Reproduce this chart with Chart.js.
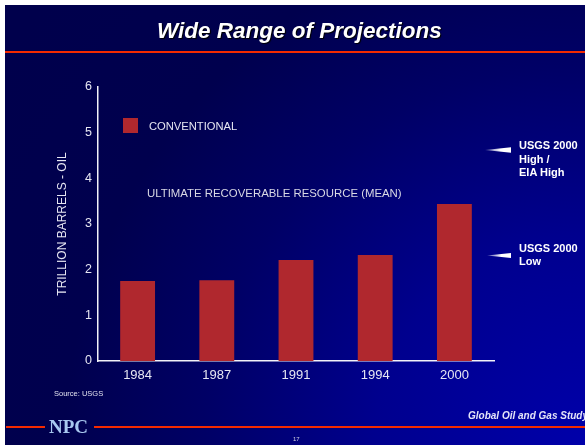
<!DOCTYPE html>
<html>
<head>
<meta charset="utf-8">
<script src="https://cdn.jsdelivr.net/npm/chart.js@4.4.1/dist/chart.umd.min.js"></script>
<style>
html,body{margin:0;padding:0;background:#fff;}
#slide{position:relative;width:585px;height:445px;overflow:hidden;background:#fff;font-family:"Liberation Sans",Arial,sans-serif;}
#bg{position:absolute;left:5px;top:5px;right:0;bottom:0;
  background:radial-gradient(circle at 100% 100%, #0000aa 0px, #00008e 210px, #000066 380px, #00004e 520px, #00004c 700px);}
#chart{position:absolute;left:0;top:0;}
.t{position:absolute;white-space:nowrap;}
#title{left:157px;top:18px;font-size:22.5px;line-height:26px;font-weight:bold;font-style:italic;color:#fff;text-shadow:1px 1px 1px #000;}
.redline{position:absolute;height:2px;background:#f42a00;}
#legSwatch{position:absolute;left:123px;top:118px;width:15px;height:14.5px;background:#b0282e;}
#legText{left:149px;top:120px;font-size:11.2px;line-height:13px;color:#e6e6f2;}
#subtitle{left:147px;top:187.3px;font-size:11.4px;line-height:13px;color:#d8d8e4;}
.note{left:519px;font-size:11px;line-height:13.5px;font-weight:bold;color:#fff;}
.wedge{position:absolute;background:linear-gradient(to right, rgba(255,255,255,0.3), #fff 60%);clip-path:polygon(0 50%,100% 0,100% 100%);}
#source{left:54px;top:389px;font-size:7.5px;line-height:9px;color:#e0e0ee;}
#npc{left:49px;top:415.5px;font-family:"Liberation Serif","Times New Roman",serif;font-size:19px;line-height:21px;font-weight:bold;color:#a8c8f0;}
#study{left:468px;top:409.7px;font-size:10px;line-height:12px;font-weight:bold;font-style:italic;color:#e4e4f8;}
#page{left:293px;top:435px;font-size:6px;line-height:8px;color:#d0d0e0;}
</style>
</head>
<body>
<div id="slide">
  <div id="bg"></div>
  <canvas id="chart" width="585" height="445"></canvas>
  <div class="t" id="title">Wide Range of Projections</div>
  <div class="redline" style="left:5px;right:0;top:51px;"></div>
  <div id="legSwatch"></div>
  <div class="t" id="legText"></div>
  <div class="t" id="subtitle">ULTIMATE RECOVERABLE RESOURCE (MEAN)</div>
  <div class="wedge" style="left:485px;top:147.3px;width:26px;height:5.4px;"></div>
  <div class="t note" style="top:139px;">USGS 2000<br>High /<br>EIA High</div>
  <div class="wedge" style="left:487px;top:253px;width:24px;height:5px;"></div>
  <div class="t note" style="top:241.6px;">USGS 2000<br>Low</div>
  <div class="t" id="source">Source: USGS</div>
  <div class="redline" style="left:6px;width:39px;top:425.5px;"></div>
  <div class="redline" style="left:94px;right:0;top:425.5px;"></div>
  <div class="t" id="npc">NPC</div>
  <div class="t" id="study">Global Oil and Gas Study</div>
  <div class="t" id="page">17</div>
</div>
<script>
const categories = ['1984', '1987', '1991', '1994', '2000'];
const conventional = [1.75, 1.77, 2.21, 2.32, 3.44];
const seriesName = 'CONVENTIONAL';
const yAxisTitle = 'TRILLION BARRELS - OIL';
const yMin = 0, yMax = 6, yStep = 1;

document.getElementById('legText').textContent = seriesName;

const FONT = '"Liberation Sans", Arial, sans-serif';
const TXT = '#e6e6f2';

new Chart(document.getElementById('chart'), {
  type: 'bar',
  data: {
    labels: categories,
    datasets: [{
      label: seriesName,
      data: conventional,
      backgroundColor: '#b0282e',
      borderWidth: 0,
      barPercentage: 0.44,
      categoryPercentage: 1
    }]
  },
  options: {
    responsive: false,
    animation: false,
    devicePixelRatio: 1,
    layout: { padding: { left: 51, top: 87, right: 91, bottom: 54 } },
    plugins: { legend: { display: false }, tooltip: { enabled: false } },
    scales: {
      x: {
        grid: { display: false, drawTicks: false },
        border: { display: true, color: '#f2f2f8', width: 1.5 },
        ticks: { color: TXT, font: { family: FONT, size: 13 }, padding: 7 },
        afterFit: s => { s.height = 30; }
      },
      y: {
        min: yMin, max: yMax,
        grid: { display: false, drawTicks: false },
        border: { display: true, color: '#f2f2f8', width: 1.5 },
        ticks: { stepSize: yStep, color: TXT, font: { family: FONT, size: 12.5 }, padding: 6 },
        title: { display: true, text: yAxisTitle, color: TXT, font: { family: FONT, size: 12 }, padding: { top: 4, bottom: 4 } },
        afterFit: s => { s.width = 47; }
      }
    }
  }
});
</script>
</body>
</html>
